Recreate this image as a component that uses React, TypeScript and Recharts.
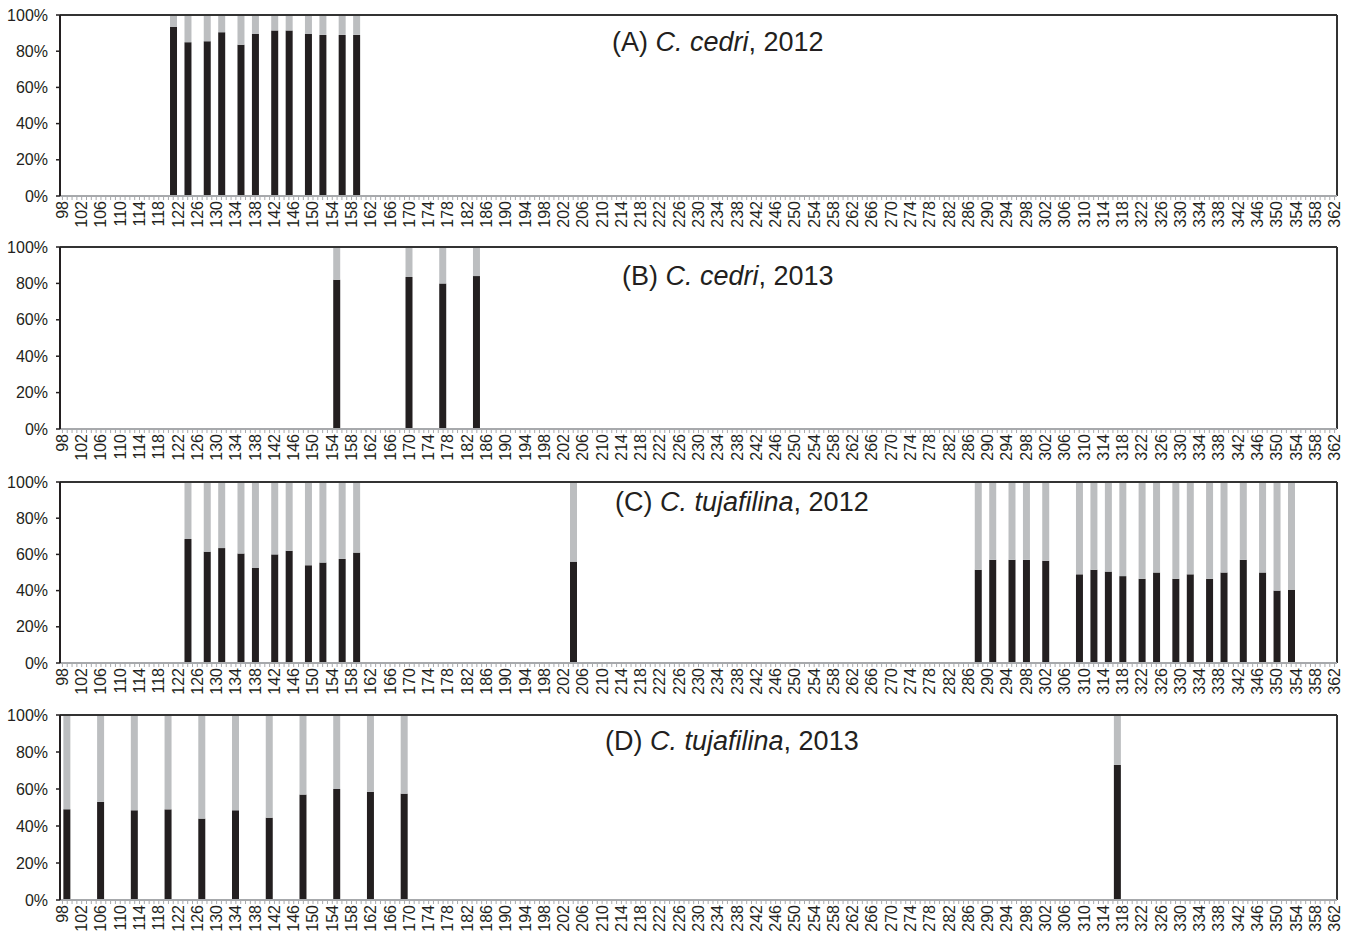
import { BarChart, Bar, XAxis, YAxis, ReferenceLine } from "recharts";

// x tick labels (fragment size)
const xLabels = [
  98, 102, 106, 110, 114, 118, 122, 126, 130, 134, 138, 142, 146, 150, 154, 158, 162, 166,
  170, 174, 178, 182, 186, 190, 194, 198, 202, 206, 210, 214, 218, 222, 226, 230, 234, 238,
  242, 246, 250, 254, 258, 262, 266, 270, 274, 278, 282, 286, 290, 294, 298, 302, 306, 310,
  314, 318, 322, 326, 330, 334, 338, 342, 346, 350, 354, 358, 362,
];
const yTicks = [0, 20, 40, 60, 80, 100];

// (A) C. cedri, 2012
const posA = [121, 124, 128, 131, 135, 138, 142, 145, 149, 152, 156, 159];
const blackA = [93.5, 85, 85.5, 90.5, 83.5, 89.5, 91.5, 91.5, 89.5, 89, 89, 89];
const grayA = [6.5, 15, 14.5, 9.5, 16.5, 10.5, 8.5, 8.5, 10.5, 11, 11, 11];

// (B) C. cedri, 2013
const posB = [155, 170, 177, 184];
const blackB = [82, 83.5, 80, 84];
const grayB = [18, 16.5, 20, 16];

// (C) C. tujafilina, 2012
const posC = [
  124, 128, 131, 135, 138, 142, 145, 149, 152, 156, 159, 204,
  288, 291, 295, 298, 302, 309, 312, 315, 318, 322, 325, 329, 332, 336, 339, 343, 347, 350, 353,
];
const blackC = [
  68.5, 61.5, 63.5, 60.5, 52.5, 60, 62, 54, 55.5, 57.5, 61, 56,
  51.5, 57, 57, 57, 56.5, 49, 51.5, 50.5, 48, 46.5, 50, 46.5, 49, 46.5, 50, 57, 50, 40, 40.5,
];
const grayC = [
  31.5, 38.5, 36.5, 39.5, 47.5, 40, 38, 46, 44.5, 42.5, 39, 44,
  48.5, 43, 43, 43, 43.5, 51, 48.5, 49.5, 52, 53.5, 50, 53.5, 51, 53.5, 50, 43, 50, 60, 59.5,
];

// (D) C. tujafilina, 2013
const posD = [99, 106, 113, 120, 127, 134, 141, 148, 155, 162, 169, 317];
const blackD = [49, 53, 48.5, 49, 44, 48.5, 44.5, 57, 60, 58.5, 57.5, 73];
const grayD = [51, 47, 51.5, 51, 56, 51.5, 55.5, 43, 40, 41.5, 42.5, 27];

const BLACK = "#231f20";
const GRAY = "#bcbec0";
const AXIS_GRAY = "#a7a9ac";
const FONT = '"Liberation Sans", Arial, sans-serif';

// one minor tick per unit, labels only on every 4th
const minorTicks: number[] = [];
for (let v = xLabels[0]; v <= xLabels[xLabels.length - 1]; v++) minorTicks.push(v);

function buildRows(pos: number[], black: number[], gray: number[]) {
  return pos.map((p, i) => ({ pos: p, black: black[i], gray: gray[i] }));
}

function XTick({ x, y, payload }: any) {
  if (!xLabels.includes(payload.value)) return null;
  return (
    <g transform={`translate(${x + 5.5},${y - 1}) rotate(-90)`}>
      <text textAnchor="end" fontSize={16} fill={BLACK} fontFamily={FONT}>
        {payload.value}
      </text>
    </g>
  );
}

function PanelChart({ rows, plotH }: { rows: any[]; plotH: number }) {
  return (
    <BarChart
      width={1354}
      height={10 + plotH + 40}
      data={rows}
      margin={{ top: 10, right: 17, bottom: 0, left: 8 }}
      barSize={7}
    >
      <XAxis
        type="number"
        dataKey="pos"
        domain={[97.5, 362.5]}
        allowDataOverflow
        ticks={minorTicks}
        interval={0}
        height={40}
        axisLine={{ stroke: AXIS_GRAY, strokeWidth: 2 }}
        tickLine={{ stroke: AXIS_GRAY, strokeWidth: 1 }}
        tickSize={4}
        tickMargin={2}
        tick={<XTick />}
      />
      <YAxis
        type="number"
        domain={[0, 100]}
        ticks={yTicks}
        interval={0}
        width={52}
        tickFormatter={(v) => `${v}%`}
        axisLine={{ stroke: BLACK, strokeWidth: 2 }}
        tickLine={{ stroke: BLACK, strokeWidth: 1.5 }}
        tickSize={4}
        tickMargin={8}
        tick={{ fill: BLACK, fontSize: 16, fontFamily: FONT }}
      />
      <Bar dataKey="black" stackId="s" fill={BLACK} barSize={7} isAnimationActive={false} />
      <Bar dataKey="gray" stackId="s" fill={GRAY} barSize={7} isAnimationActive={false} />
      <ReferenceLine y={100} stroke="#333" strokeWidth={2} />
      <ReferenceLine x={362.5} stroke="#333" strokeWidth={2} />
    </BarChart>
  );
}

const panels = [
  { id: "A", species: "C. cedri", year: "2012", rows: buildRows(posA, blackA, grayA), plotTop: 15, plotH: 181, titleX: 612, titleY: 42 },
  { id: "B", species: "C. cedri", year: "2013", rows: buildRows(posB, blackB, grayB), plotTop: 247, plotH: 182, titleX: 622, titleY: 276 },
  { id: "C", species: "C. tujafilina", year: "2012", rows: buildRows(posC, blackC, grayC), plotTop: 482, plotH: 181, titleX: 615, titleY: 502.5 },
  { id: "D", species: "C. tujafilina", year: "2013", rows: buildRows(posD, blackD, grayD), plotTop: 715, plotH: 185, titleX: 605, titleY: 741 },
];

export default function App() {
  return (
    <div
      style={{
        position: "absolute",
        left: 0,
        top: 0,
        width: 1354,
        height: 934,
        background: "#fff",
        fontFamily: FONT,
        overflow: "hidden",
      }}
    >
      {panels.map((p) => (
        <div key={p.id}>
          <div style={{ position: "absolute", left: 0, top: p.plotTop - 10 }}>
            <PanelChart rows={p.rows} plotH={p.plotH} />
          </div>
          <div
            style={{
              position: "absolute",
              left: p.titleX,
              top: p.titleY - 13.2,
              fontSize: 27,
              lineHeight: "27px",
              color: BLACK,
              whiteSpace: "nowrap",
            }}
          >
            ({p.id}) <i>{p.species}</i>, {p.year}
          </div>
        </div>
      ))}
    </div>
  );
}
